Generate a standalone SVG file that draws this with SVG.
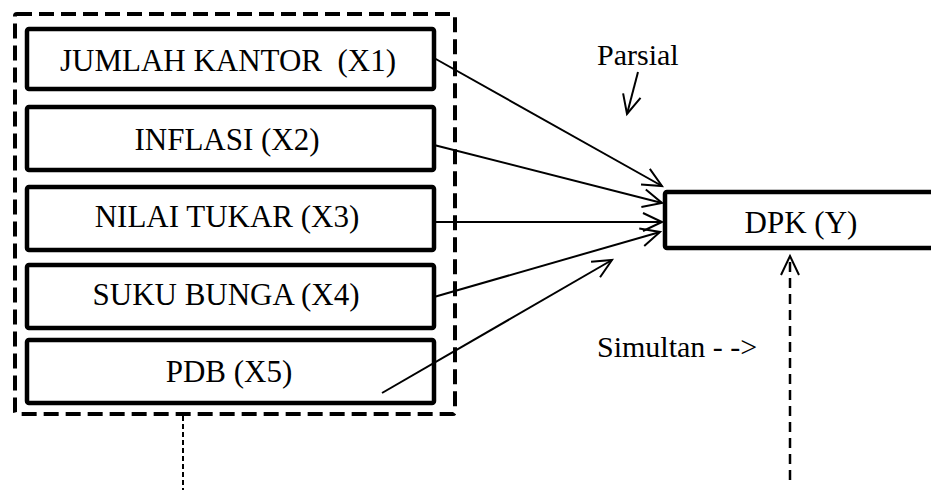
<svg xmlns="http://www.w3.org/2000/svg" width="931" height="490" viewBox="0 0 931 490">
  <style>
    .box { fill: #ffffff; stroke: #000000; stroke-width: 4.5; }
    .grp { fill: none; stroke: #000000; stroke-width: 4; stroke-dasharray: 15 7; }
    .lbl { font-family: "Liberation Serif", "Times New Roman", serif; font-size: 31px; fill: #000000; text-anchor: middle; }
    .note { font-family: "Liberation Serif", "Times New Roman", serif; font-size: 30px; fill: #000000; }
    .conn { fill: none; stroke: #000000; stroke-width: 2; }
    .sim { fill: none; stroke: #000000; stroke-width: 2.5; stroke-dasharray: 10 6; }
    .dot { fill: none; stroke: #000000; stroke-width: 2; stroke-dasharray: 5 3; }
  </style>
  <defs>
    <marker id="open" viewBox="-21 -11 24 22" refX="0" refY="0" markerWidth="24" markerHeight="22" markerUnits="userSpaceOnUse" orient="auto">
      <path d="M-19,-9 L0,0 L-19,9" fill="none" stroke="#000000" stroke-width="2"/>
    </marker>
  </defs>
  <rect width="931" height="490" fill="#ffffff"/>

  <g id="group-x">
    <rect class="grp" x="15" y="14" width="440" height="400" rx="2"/>
  </g>

  <g id="x1">
    <rect class="box" x="27" y="29" width="407" height="60" rx="2"/>
    <text class="lbl" x="228" y="71" xml:space="preserve">JUMLAH KANTOR  (X1)</text>
  </g>
  <g id="x2">
    <rect class="box" x="27" y="107" width="407" height="63" rx="2"/>
    <text class="lbl" x="227" y="150">INFLASI (X2)</text>
  </g>
  <g id="x3">
    <rect class="box" x="27" y="187" width="407" height="63" rx="2"/>
    <text class="lbl" x="227" y="227">NILAI TUKAR (X3)</text>
  </g>
  <g id="x4">
    <rect class="box" x="27" y="265" width="407" height="63" rx="2"/>
    <text class="lbl" x="226" y="305">SUKU BUNGA (X4)</text>
  </g>
  <g id="x5">
    <rect class="box" x="27" y="340" width="407" height="63" rx="2"/>
    <text class="lbl" x="229" y="382">PDB (X5)</text>
  </g>

  <g id="y">
    <rect class="box" x="665" y="192" width="280" height="56" rx="2"/>
    <text class="lbl" x="801" y="233">DPK (Y)</text>
  </g>

  <g id="labels">
    <text class="note" x="597" y="65">Parsial</text>
    <text class="note" x="597" y="357">Simultan - -&gt;</text>
  </g>

  <g id="connectors">
    <line class="conn" x1="434" y1="58" x2="662" y2="186" marker-end="url(#open)"/>
    <line class="conn" x1="434" y1="145" x2="662" y2="203" marker-end="url(#open)"/>
    <line class="conn" x1="434" y1="222" x2="662" y2="222" marker-end="url(#open)"/>
    <line class="conn" x1="434" y1="297" x2="660" y2="232" marker-end="url(#open)"/>
    <line class="conn" x1="382" y1="393" x2="612" y2="260" marker-end="url(#open)"/>
    <line class="conn" x1="638" y1="72" x2="627" y2="114" marker-end="url(#open)"/>
    <line class="sim" x1="790" y1="480" x2="790" y2="256" marker-end="url(#open)"/>
    <line class="dot" x1="183" y1="416" x2="183" y2="490"/>
  </g>
</svg>
